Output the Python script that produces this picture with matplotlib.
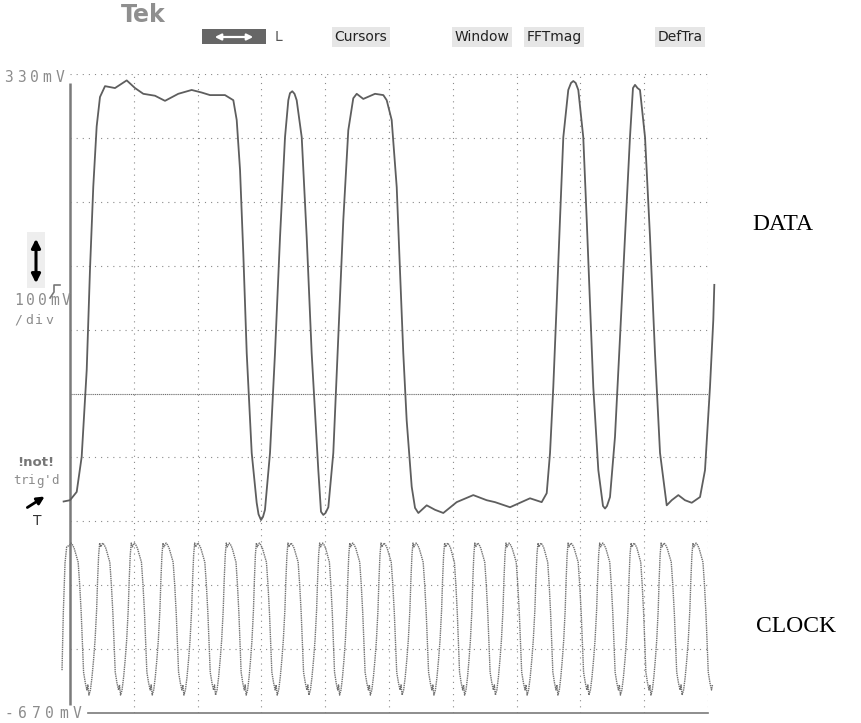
"""
Tek scope screen: DATA trace over a CLOCK trace, redrawn with matplotlib
"""
import numpy as np
import matplotlib
matplotlib.use("Agg")
import matplotlib.pyplot as plt
from matplotlib.patches import Rectangle, FancyArrowPatch

W, H = 861, 723

# screen scale: 10 div across, 100 mV/div from -670 mV to 330 mV
x_divs = list(range(11))
y_top, y_bot = 330, -670
y_ticks = [330 - 100 * k for k in range(11)]

# DATA trace (time in div, level in mV)
data_t = [-0.10, 0.0, 0.105, 0.183, 0.262, 0.313, 0.365, 0.418, 0.470, 0.549,
          0.705, 0.889, 1.019, 1.149, 1.332, 1.489, 1.697, 1.907, 2.064, 2.194,
          2.429, 2.560, 2.613, 2.665, 2.716, 2.770, 2.848, 2.926, 2.955, 2.994,
          3.025, 3.056, 3.135, 3.213, 3.292, 3.370, 3.422, 3.448, 3.484, 3.519,
          3.553, 3.632, 3.710, 3.788, 3.892, 3.934, 3.970, 4.005, 4.049, 4.127,
          4.205, 4.284, 4.362, 4.440, 4.494, 4.597, 4.781, 4.911, 4.964, 5.042,
          5.121, 5.172, 5.224, 5.277, 5.356, 5.408, 5.460, 5.591, 5.721, 5.851,
          6.061, 6.321, 6.531, 6.661, 6.897, 7.210, 7.393, 7.472, 7.524, 7.575,
          7.629, 7.680, 7.732, 7.810, 7.853, 7.889, 7.926, 7.967, 8.045, 8.099,
          8.150, 8.202, 8.281, 8.354, 8.386, 8.417, 8.464, 8.542, 8.621, 8.699,
          8.777, 8.824, 8.856, 8.895, 8.934, 9.013, 9.091, 9.169, 9.248, 9.353,
          9.431, 9.535, 9.639, 9.745, 9.875, 9.953, 10.031, 10.083, 10.099]
data_mv = [-339, -337, -324, -269, -133, 23, 154, 248, 294, 311,
           308, 320, 308, 299, 296, 288, 299, 305, 301, 297,
           297, 289, 258, 180, 50, -107, -263, -341, -359, -368,
           -363, -352, -263, -107, 75, 231, 289, 300, 303, 299,
           289, 231, 75, -107, -290, -355, -360, -357, -348, -263,
           -82, 102, 242, 292, 299, 291, 299, 297, 289, 258,
           153, 23, -107, -212, -316, -349, -357, -345, -352, -357,
           -340, -329, -337, -340, -348, -334, -340, -326, -263, -160,
           -28, 102, 231, 305, 316, 319, 316, 305, 231, 102,
           -28, -160, -290, -346, -350, -346, -332, -238, -82, 75,
           231, 308, 313, 308, 305, 231, 75, -107, -263, -345,
           -337, -329, -337, -341, -332, -290, -160, -55, 0]

# CLOCK trace: peak positions (div) and one cycle's shape after a peak
clock_peaks = [0.0, 0.497, 0.992, 1.489, 1.986, 2.481, 2.951, 3.448, 3.945,
               4.415, 4.906, 5.408, 5.904, 6.375, 6.865, 7.367, 7.837, 8.334,
               8.825, 9.295, 9.796]
cycle_off = [0, 0.016, 0.039, 0.063, 0.094, 0.125, 0.149, 0.172, 0.193, 0.208,
             0.235, 0.259, 0.274, 0.290, 0.313, 0.337, 0.361, 0.384, 0.408,
             0.423, 0.439, 0.455, 0.470]
cycle_mv = [-407, -404, -407, -412, -423, -434, -470, -514, -567, -606,
            -623, -634, -626, -642, -634, -614, -587, -556, -509, -462,
            -423, -404, -410]
lead_t = [-0.125, -0.105, -0.078, -0.052]
lead_mv = [-603, -514, -435, -410]
nominal_period = 0.486
clock_end = 10.08

clock_t, clock_mv = list(lead_t), list(lead_mv)
for i, c in enumerate(clock_peaks):
    gap = clock_peaks[i + 1] - c if i + 1 < len(clock_peaks) else nominal_period
    for off, v in zip(cycle_off, cycle_mv):
        t = c + off * gap / nominal_period
        if t <= clock_end:
            clock_t.append(t)
            clock_mv.append(v)


def fpx(x, y):
    # pixel position on the screenshot -> figure fraction
    return x / W, 1 - y / H


def spaced(x0, y, s, step, **kw):
    # scope readouts are widely letter-spaced, so place one glyph at a time
    for k, ch in enumerate(s):
        fig.text(*fpx(x0 + step * k + step / 2, y), ch, ha="center", va="center", **kw)


fig = plt.figure(figsize=(W / 100, H / 100), dpi=100)
fig.patch.set_facecolor("white")
ax = fig.add_axes([70 / W, 1 - 713 / H, (708 - 70) / W, (713 - 74) / H])
ax.set_xlim(0, 10)
ax.set_ylim(y_bot, y_top)
ax.axis("off")

grid_col = "#8a8a8a"
for xd in x_divs[1:]:
    ax.axvline(xd, color=grid_col, lw=0.8, ls=(0, (1, 4.5)))
for yv in y_ticks[:-1]:
    if yv == -170:
        continue
    ax.axhline(yv, color=grid_col, lw=0.8, ls=(0, (1, 4.5)))
# trigger level line across the middle
ax.axhline(-170, color="#707070", lw=0.8, ls=(0, (1, 0.7)))

# left edge and bottom edge of the screen
ax.plot([0, 0], [316, -658], color="#7a7a7a", lw=1.8, solid_capstyle="butt", clip_on=False)
ax.plot([0.28, 10], [y_bot, y_bot], color="#7a7a7a", lw=1.2, clip_on=False)

ax.plot(clock_t, clock_mv, color="#707070", lw=1.0, ls=(0, (1, 0.6)), clip_on=False)
ax.plot(data_t, data_mv, color="#5e5e5e", lw=1.3, clip_on=False)

mono = "DejaVu Sans Mono"
scr = "#8c8c8c"

# header
fig.text(*fpx(143, 15), "Tek", ha="center", va="center", fontsize=17,
         fontweight="bold", color="#8f8f8f", family="DejaVu Sans")
fig.patches.append(Rectangle(fpx(202, 44), 64 / W, 15 / H, transform=fig.transFigure,
                             facecolor="#666666", edgecolor="none"))
fig.patches.append(FancyArrowPatch(
    fpx(212, 37), fpx(256, 37), transform=fig.transFigure, arrowstyle="<|-|>",
    mutation_scale=9, color="white", lw=1.6))
fig.text(*fpx(279, 37), "L", ha="center", va="center", fontsize=10, color="#555555",
         family="DejaVu Sans")
menu_bbox = dict(boxstyle="square,pad=0.2", facecolor="#e6e6e6", edgecolor="none")
for label, xc in [("Cursors", 361), ("Window", 482), ("FFTmag", 554), ("DefTra", 680)]:
    fig.text(*fpx(xc, 37), label, ha="center", va="center", fontsize=10,
             color="#222222", family="DejaVu Sans", bbox=menu_bbox)

# left side readouts
spaced(2, 77, "330mV", 12.8, fontsize=10.5, color=scr, family=mono)
spaced(2, 713, "-670mV", 13.6, fontsize=10.5, color=scr, family=mono)
spaced(13, 300, "100mV", 11.8, fontsize=10.5, color=scr, family=mono)
spaced(13, 320, "/div", 10.5, fontsize=9.5, color=scr, family=mono)
fig.text(*fpx(36, 463), "!not!", ha="center", va="center", fontsize=9.5,
         fontweight="bold", color="#777777", family="DejaVu Sans")
spaced(13, 481, "trig'd", 7.6, fontsize=9, color=scr, family=mono)
fig.text(*fpx(37, 521), "T", ha="center", va="center", fontsize=10,
         color="#333333", family="DejaVu Sans")

# vertical position arrow and trigger arrow
fig.patches.append(Rectangle(fpx(27, 288), 18 / W, 56 / H, transform=fig.transFigure,
                             facecolor="#eeeeee", edgecolor="none"))
fig.patches.append(FancyArrowPatch(
    fpx(36, 236), fpx(36, 286), transform=fig.transFigure, arrowstyle="<|-|>",
    mutation_scale=13, color="black", lw=2.2))
fig.patches.append(FancyArrowPatch(
    fpx(25, 509), fpx(47, 495), transform=fig.transFigure, arrowstyle="-|>",
    mutation_scale=11, color="black", lw=2.0))
fig.lines.append(plt.Line2D([50 / W, 54 / W, 54 / W, 60 / W],
                            [1 - 298 / H, 1 - 292 / H, 1 - 285 / H, 1 - 285 / H],
                            transform=fig.transFigure, color="#777777", lw=1.2))

# channel names
fig.text(*fpx(783, 225), "DATA", ha="center", va="center", fontsize=17,
         color="black", family="Liberation Serif")
fig.text(*fpx(796, 627), "CLOCK", ha="center", va="center", fontsize=17,
         color="black", family="Liberation Serif")

fig.savefig("out.png", dpi=100, facecolor="white")
